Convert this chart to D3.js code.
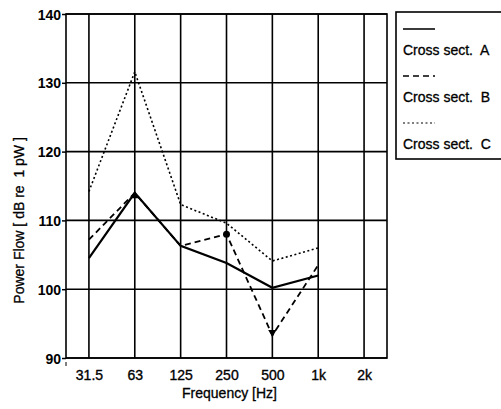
<!DOCTYPE html>
<html>
<head>
<meta charset="utf-8">
<script src="https://cdn.jsdelivr.net/npm/d3@7"></script>
<style>
  body { margin: 0; background: #fff; }
  text { font-family: "Liberation Sans", Arial, sans-serif; fill: #000; white-space: pre; }
</style>
</head>
<body>
<script>
var freqs = ['31.5', '63', '125', '250', '500', '1k', '2k'];
var yTicks = [90, 100, 110, 120, 130, 140];
var seriesNames = ['Cross sect.  A', 'Cross sect.  B', 'Cross sect.  C'];
var sectA = [104.5, 114, 106.3, 103.8, 100.2, 102];
var sectB = [107.2, 114, 106.3, 108, 93.3, 103.5];
var sectC = [114.2, 131.6, 112.3, 109.6, 104.1, 106];

var width = 501, height = 409,
    margin = { top: 14, right: 114, bottom: 51, left: 66 };
var w = width - margin.left - margin.right,
    h = height - margin.top - margin.bottom;

var x = d3.scalePoint()
        .domain(freqs)
        .range([0, w])
        .padding(0.5);

var y = d3.scaleLinear()
        .domain([90, 140])
        .range([h, 0]);

var svg = d3.select('body')
        .append('svg')
         .attr('width', width)
         .attr('height', height)
        .append('g')
         .attr('transform', 'translate(' + margin.left + ',' + margin.top + ')');

// grid
svg.selectAll('.vgrid')
    .data(freqs)
    .enter().append('line')
     .attr('x1', function(d) { return x(d); })
     .attr('x2', function(d) { return x(d); })
     .attr('y1', 0).attr('y2', h)
     .attr('stroke', '#000').attr('stroke-width', 1.6);

svg.selectAll('.hgrid')
    .data(yTicks)
    .enter().append('line')
     .attr('x1', 0).attr('x2', w)
     .attr('y1', function(d) { return y(d); })
     .attr('y2', function(d) { return y(d); })
     .attr('stroke', '#000').attr('stroke-width', 1.6);

svg.append('rect')
    .attr('width', w).attr('height', h)
    .attr('fill', 'none').attr('stroke', '#000').attr('stroke-width', 1.6);

// axes
var yAxis = d3.axisLeft(y).tickValues(yTicks).tickSize(4).tickPadding(1);
var gy = svg.append('g').call(yAxis);
gy.select('.domain').remove();
gy.selectAll('line').attr('stroke-width', 1.5);
gy.selectAll('text')
    .style('font-size', '14px').style('font-weight', 'bold')
    .attr('dy', '0.36em');

var xAxis = d3.axisBottom(x).tickSize(0).tickPadding(12);
var gx = svg.append('g')
    .attr('transform', 'translate(0,' + h + ')')
    .call(xAxis);
gx.select('.domain').remove();
gx.selectAll('text')
    .style('font-size', '14px')
    .attr('stroke', '#000').attr('stroke-width', 0.35);

svg.append('line')
    .attr('x1', 0).attr('x2', 0)
    .attr('y1', h + 4).attr('y2', h + 8)
    .attr('stroke', '#000').attr('stroke-width', 1);

svg.append('text')
    .attr('x', w / 2 + 3).attr('y', h + 40)
    .attr('text-anchor', 'middle')
    .style('font-size', '14px')
    .attr('stroke', '#000').attr('stroke-width', 0.3)
    .text('Frequency [Hz]');

svg.append('text')
    .attr('transform', 'translate(' + (-42) + ',' + y(110) + ') rotate(-90)')
    .attr('text-anchor', 'middle')
    .style('font-size', '14px')
    .attr('stroke', '#000').attr('stroke-width', 0.3)
    .text('Power Flow [ dB re  1 pW ]');

// lines
var line = d3.line()
    .x(function(d, i) { return x(freqs[i]); })
    .y(function(d) { return y(d); });

var styles = [
    { width: 2.2, dash: null },
    { width: 1.8, dash: '6,4' },
    { width: 1.6, dash: '2,2.5' }
];
var allSeries = [sectA, sectB, sectC];

svg.selectAll('.series')
    .data(allSeries)
    .enter().append('path')
     .attr('d', line)
     .attr('fill', 'none')
     .attr('stroke', '#000')
     .attr('stroke-width', function(d, i) { return styles[i].width; })
     .attr('stroke-dasharray', function(d, i) { return styles[i].dash; });

svg.append('circle')
    .attr('cx', x(freqs[3])).attr('cy', y(sectB[3]))
    .attr('r', 3.5).attr('fill', '#000');

svg.append('path')
    .attr('d', d3.symbol(d3.symbolTriangle, 30)())
    .attr('transform', 'translate(' + x(freqs[1]) + ',' + (y(sectA[1]) + 3) + ')');

svg.append('path')
    .attr('d', d3.symbol(d3.symbolTriangle, 30)())
    .attr('transform', 'translate(' + x(freqs[4]) + ',' + (y(sectB[4]) - 3) + ') rotate(180)');

// legend
var leg = d3.select('svg').append('g')
    .attr('transform', 'translate(396,12)');
leg.append('rect')
    .attr('width', 112).attr('height', 147)
    .attr('fill', 'none').attr('stroke', '#000').attr('stroke-width', 1.6);

seriesNames.forEach(function(name, i) {
    var yy = 17 + i * 47;
    leg.append('line')
        .attr('x1', 7).attr('x2', 39)
        .attr('y1', yy).attr('y2', yy)
        .attr('stroke', '#000')
        .attr('stroke-width', styles[i].width * 0.7)
        .attr('stroke-dasharray', styles[i].dash);
    leg.append('text')
        .attr('x', 7).attr('y', yy + 26)
        .style('font-size', '14px')
        .attr('stroke', '#000').attr('stroke-width', 0.3)
        .text(name);
});
</script>
</body>
</html>
